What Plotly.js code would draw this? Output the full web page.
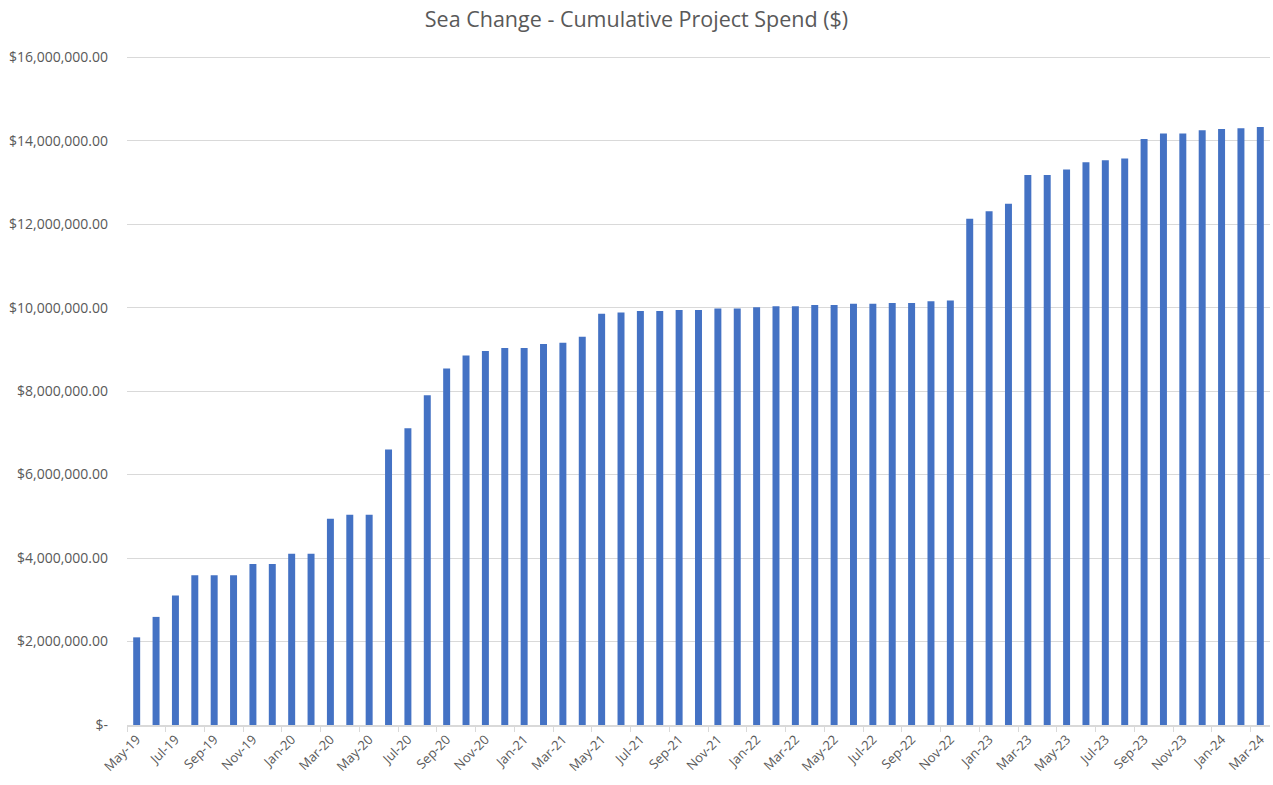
<!DOCTYPE html>
<html>
<head>
<meta charset="utf-8">
<script src="https://cdn.plot.ly/plotly-3.0.1.min.js"></script>
<style>
  html, body { margin: 0; padding: 0; background: #fff; }
  #chart { width: 1273px; height: 785px; }
</style>
</head>
<body>
<div id="chart"></div>
<script>
// months, May-19 .. Mar-24
var months = [
  'May-19','Jun-19','Jul-19','Aug-19','Sep-19','Oct-19','Nov-19','Dec-19',
  'Jan-20','Feb-20','Mar-20','Apr-20','May-20','Jun-20','Jul-20','Aug-20','Sep-20','Oct-20','Nov-20','Dec-20',
  'Jan-21','Feb-21','Mar-21','Apr-21','May-21','Jun-21','Jul-21','Aug-21','Sep-21','Oct-21','Nov-21','Dec-21',
  'Jan-22','Feb-22','Mar-22','Apr-22','May-22','Jun-22','Jul-22','Aug-22','Sep-22','Oct-22','Nov-22','Dec-22',
  'Jan-23','Feb-23','Mar-23','Apr-23','May-23','Jun-23','Jul-23','Aug-23','Sep-23','Oct-23','Nov-23','Dec-23',
  'Jan-24','Feb-24','Mar-24'
];

// cumulative spend ($)
var spend = [
  2100000, 2590000, 3100000, 3590000, 3590000, 3590000, 3860000, 3860000,
  4100000, 4100000, 4940000, 5040000, 5040000, 6600000, 7110000, 7900000, 8540000, 8850000, 8960000, 9030000,
  9030000, 9130000, 9160000, 9300000, 9850000, 9880000, 9920000, 9920000, 9940000, 9940000, 9980000, 9980000,
  10010000, 10030000, 10030000, 10060000, 10060000, 10090000, 10090000, 10110000, 10110000, 10150000, 10170000, 12130000,
  12310000, 12490000, 13180000, 13180000, 13310000, 13480000, 13530000, 13570000, 14040000, 14170000, 14170000, 14250000,
  14280000, 14300000, 14330000
];

var yTickVals = [0, 2000000, 4000000, 6000000, 8000000, 10000000, 12000000, 14000000, 16000000];
var yTickText = ['$-', '$2,000,000.00', '$4,000,000.00', '$6,000,000.00', '$8,000,000.00',
                 '$10,000,000.00', '$12,000,000.00', '$14,000,000.00', '$16,000,000.00'];

var trace = {
  type: 'bar',
  x: months,
  y: spend,
  marker: {color: '#4472C4'},
  hoverinfo: 'x+y'
};

var layout = {
  width: 1273,
  height: 785,
  margin: {l: 127, r: 3, t: 53, b: 60},
  paper_bgcolor: '#fff',
  plot_bgcolor: '#fff',
  font: {family: '"Open Sans", "Noto Sans", sans-serif', color: '#595959'},
  title: {
    text: 'Sea Change - Cumulative Project Spend ($)',
    font: {size: 21.5, color: '#595959'},
    x: 0.5,
    xanchor: 'center',
    y: 0.975,
    yanchor: 'middle'
  },
  bargap: 0.64,
  showlegend: false,
  xaxis: {
    type: 'category',
    tickangle: -45,
    dtick: 2,
    tickson: 'boundaries',
    ticks: 'outside',
    ticklen: 5,
    tickcolor: '#d9d9d9',
    showline: true,
    linecolor: '#d9d9d9',
    linewidth: 1.5,
    showgrid: false,
    tickfont: {size: 13, color: '#595959'},
    automargin: false
  },
  yaxis: {
    range: [0, 16100000],
    tickvals: yTickVals,
    ticktext: yTickText,
    showgrid: true,
    gridcolor: '#d9d9d9',
    gridwidth: 1.3,
    zeroline: false,
    ticks: '',
    ticklabelstandoff: 18,
    tickfont: {size: 14, color: '#595959'},
    automargin: false
  }
};

Plotly.newPlot('chart', [trace], layout, {displayModeBar: false});
</script>
</body>
</html>
